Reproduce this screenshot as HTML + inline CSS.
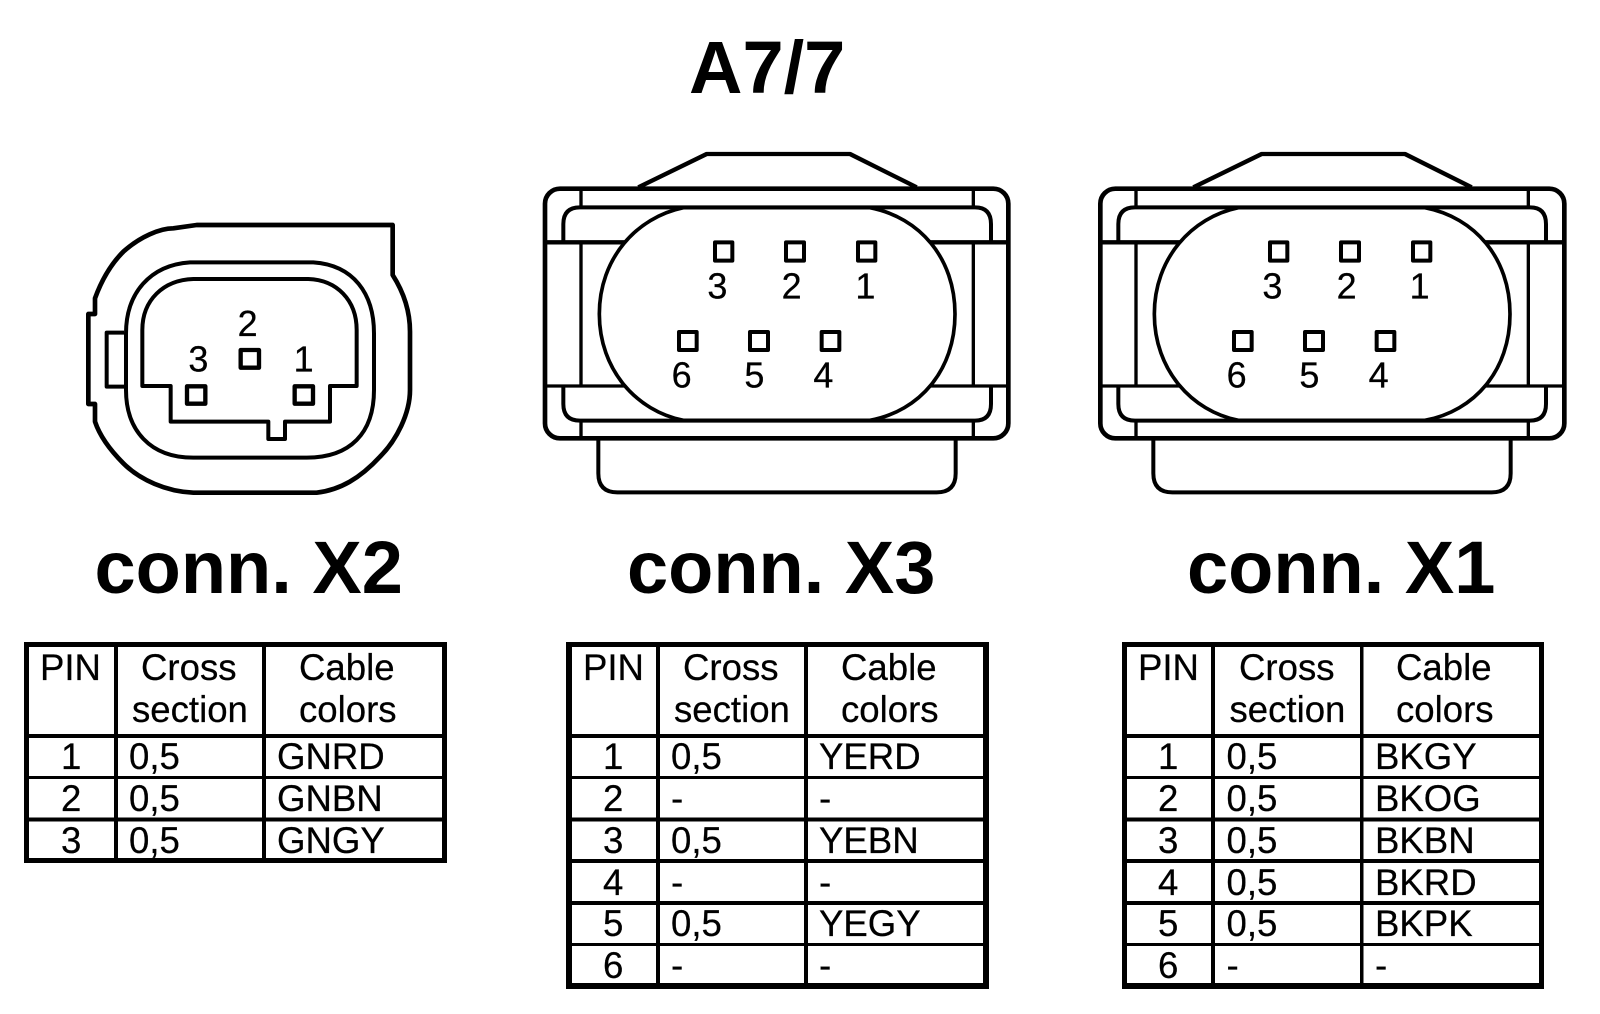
<!DOCTYPE html>
<html><head><meta charset="utf-8"><style>
html,body{margin:0;padding:0;background:#fff}
svg{display:block}
text{font-family:"Liberation Sans",Arial,sans-serif;fill:#000}
.b{font-weight:bold;font-size:74px}
.t text{font-size:36.6px;stroke:#000;stroke-width:.25px}
.n{font-size:108px;text-anchor:middle;stroke:#000;stroke-width:.8px}
.s{fill:none;stroke:#000;stroke-linejoin:round}
</style></head><body>
<svg width="1600" height="1014" viewBox="0 0 1600 1014" xmlns="http://www.w3.org/2000/svg">
<rect width="1600" height="1014" fill="#fff"/>
<text class="b" x="689" y="93">A7/7</text>
<text class="b" x="94.5" y="593">conn. X2</text>
<text class="b" x="627" y="593">conn. X3</text>
<text class="b" x="1187" y="593">conn. X1</text>

<!-- X2 -->
<g transform="translate(60,200) scale(.33333)">
<path class="s" stroke-width="14" d="M998 75V225C1030 275 1050 330 1050 395V570C1050 640 1010 720 960 770C900 835 840 870 770 878H400C320 875 240 840 190 790C150 750 120 710 105 665V612H85V342H105V295C125 240 150 195 190 155C240 110 300 85 340 85L410 75Z"/>
<path class="s" stroke-width="12" d="M390 187H760C880 195 942 280 942 400V570C942 700 870 773 740 773H400C270 773 198 690 198 570V400C198 280 270 195 390 187Z"/>
<path class="s" stroke-width="12" d="M400 237H745C830 240 890 300 890 390V558H810V665H675V717H625V665H332V558H247V390C247 300 310 240 400 237Z"/>
<path class="s" stroke-width="12" d="M192 398H140V560H192"/>
<rect class="s" stroke-width="13" x="542" y="450" width="55" height="53"/>
<rect class="s" stroke-width="13" x="381" y="559" width="55" height="52"/>
<rect class="s" stroke-width="13" x="704" y="559" width="55" height="52"/>
<text class="n" x="563" y="408">2</text>
<text class="n" x="415" y="515">3</text>
<text class="n" x="731" y="515">1</text>
</g>

<!-- X3 -->
<g transform="translate(530,130) scale(.33333)">
<path class="s" stroke-width="13" d="M325 172L530 72H960L1160 172"/>
<path class="s" stroke-width="12" d="M205 925V1030Q205 1087 262 1087H1220Q1277 1087 1277 1030V925"/>
<rect class="s" stroke-width="14" x="45" y="176" width="1390" height="749" rx="45"/>
<path class="s" stroke-width="13" d="M45 337H1435"/>
<path class="s" stroke-width="10" d="M45 768H1435M153 176V232M1330 176V232M153 337V768M1330 337V768M153 872V925M1330 872V925"/>
<path class="s" stroke-width="12" d="M100 337V282Q100 232 150 232H1335Q1383 232 1383 282V337M100 768V822Q100 872 150 872H1335Q1383 872 1383 822V768"/>
<path class="s" style="fill:#fff" stroke-width="11" d="M460 233C320 262 208 385 208 552C208 720 320 843 460 871H1020C1170 843 1275 720 1275 552C1275 385 1170 262 1020 233Z"/>
<g class="s" stroke-width="12">
<rect x="555" y="337" width="52" height="55"/><rect x="768" y="337" width="54" height="55"/><rect x="984" y="337" width="52" height="55"/>
<rect x="447" y="606" width="53" height="54"/><rect x="660" y="606" width="54" height="54"/><rect x="875" y="606" width="53" height="54"/>
</g>
<text class="n" x="562" y="505">3</text><text class="n" x="785" y="505">2</text><text class="n" x="1006" y="505">1</text>
<text class="n" x="455" y="772">6</text><text class="n" x="673" y="772">5</text><text class="n" x="880" y="772">4</text>
</g>

<!-- X1 -->
<g transform="translate(1085,130) scale(.33333)">
<path class="s" stroke-width="13" d="M325 172L530 72H960L1160 172"/>
<path class="s" stroke-width="12" d="M205 925V1030Q205 1087 262 1087H1220Q1277 1087 1277 1030V925"/>
<rect class="s" stroke-width="14" x="46" y="176" width="1392" height="749" rx="45"/>
<path class="s" stroke-width="13" d="M46 337H1438"/>
<path class="s" stroke-width="10" d="M46 768H1438M153 176V232M1330 176V232M153 337V768M1330 337V768M153 872V925M1330 872V925"/>
<path class="s" stroke-width="12" d="M100 337V282Q100 232 150 232H1335Q1383 232 1383 282V337M100 768V822Q100 872 150 872H1335Q1383 872 1383 822V768"/>
<path class="s" style="fill:#fff" stroke-width="11" d="M460 233C320 262 208 385 208 552C208 720 320 843 460 871H1020C1170 843 1275 720 1275 552C1275 385 1170 262 1020 233Z"/>
<g class="s" stroke-width="12">
<rect x="555" y="337" width="52" height="55"/><rect x="768" y="337" width="54" height="55"/><rect x="984" y="337" width="52" height="55"/>
<rect x="447" y="606" width="53" height="54"/><rect x="660" y="606" width="54" height="54"/><rect x="875" y="606" width="53" height="54"/>
</g>
<text class="n" x="562" y="505">3</text><text class="n" x="785" y="505">2</text><text class="n" x="1004" y="505">1</text>
<text class="n" x="455" y="772">6</text><text class="n" x="673" y="772">5</text><text class="n" x="881" y="772">4</text>
</g>

<!-- Table 1 -->
<g fill="#000">
<rect x="24" y="642" width="5" height="221"/><rect x="442" y="642" width="5" height="221"/>
<rect x="24" y="642" width="423" height="5"/><rect x="24" y="858" width="423" height="5"/>
<rect x="114" y="642" width="4" height="221"/><rect x="262" y="642" width="4" height="221"/>
<rect x="24" y="734" width="423" height="4"/><rect x="24" y="776" width="423" height="3"/><rect x="24" y="817.5" width="423" height="4"/>
</g>
<g class="t">
<text x="40" y="680">PIN</text><text x="141" y="680">Cross</text><text x="299" y="680">Cable</text>
<text x="132" y="722">section</text><text x="299" y="722">colors</text>
<text x="61" y="769">1</text><text x="129" y="769">0,5</text><text x="277" y="769">GNRD</text>
<text x="61" y="811">2</text><text x="129" y="811">0,5</text><text x="277" y="811">GNBN</text>
<text x="61" y="853">3</text><text x="129" y="853">0,5</text><text x="277" y="853">GNGY</text>
</g>

<!-- Table 2 -->
<g fill="#000">
<rect x="566" y="642" width="6" height="347"/><rect x="983" y="642" width="6" height="347"/>
<rect x="566" y="642" width="423" height="5"/><rect x="566" y="983" width="423" height="6"/>
<rect x="656" y="642" width="4" height="347"/><rect x="804" y="642" width="4" height="347"/>
<rect x="566" y="734" width="423" height="4"/><rect x="566" y="776" width="423" height="3"/><rect x="566" y="817.5" width="423" height="4"/><rect x="566" y="859" width="423" height="4"/><rect x="566" y="901" width="423" height="4"/><rect x="566" y="943" width="423" height="3"/>
</g>
<g class="t">
<text x="583" y="680">PIN</text><text x="683" y="680">Cross</text><text x="841" y="680">Cable</text>
<text x="674" y="722">section</text><text x="841" y="722">colors</text>
<text x="603" y="769">1</text><text x="671" y="769">0,5</text><text x="819" y="769">YERD</text>
<text x="603" y="811">2</text><text x="671" y="811">-</text><text x="819" y="811">-</text>
<text x="603" y="853">3</text><text x="671" y="853">0,5</text><text x="819" y="853">YEBN</text>
<text x="603" y="895">4</text><text x="671" y="895">-</text><text x="819" y="895">-</text>
<text x="603" y="936">5</text><text x="671" y="936">0,5</text><text x="819" y="936">YEGY</text>
<text x="603" y="978">6</text><text x="671" y="978">-</text><text x="819" y="978">-</text>
</g>

<!-- Table 3 -->
<g fill="#000">
<rect x="1122" y="642" width="5" height="347"/><rect x="1539" y="642" width="5" height="347"/>
<rect x="1122" y="642" width="422" height="5"/><rect x="1122" y="983" width="422" height="6"/>
<rect x="1211" y="642" width="4" height="347"/><rect x="1360" y="642" width="3.5" height="347"/>
<rect x="1122" y="734" width="422" height="4"/><rect x="1122" y="776" width="422" height="3"/><rect x="1122" y="817.5" width="422" height="4"/><rect x="1122" y="859" width="422" height="4"/><rect x="1122" y="901" width="422" height="4"/><rect x="1122" y="943" width="422" height="3"/>
</g>
<g class="t">
<text x="1138" y="680">PIN</text><text x="1239" y="680">Cross</text><text x="1396" y="680">Cable</text>
<text x="1229.5" y="722">section</text><text x="1396" y="722">colors</text>
<text x="1158" y="769">1</text><text x="1226.5" y="769">0,5</text><text x="1375" y="769">BKGY</text>
<text x="1158" y="811">2</text><text x="1226.5" y="811">0,5</text><text x="1375" y="811">BKOG</text>
<text x="1158" y="853">3</text><text x="1226.5" y="853">0,5</text><text x="1375" y="853">BKBN</text>
<text x="1158" y="895">4</text><text x="1226.5" y="895">0,5</text><text x="1375" y="895">BKRD</text>
<text x="1158" y="936">5</text><text x="1226.5" y="936">0,5</text><text x="1375" y="936">BKPK</text>
<text x="1158" y="978">6</text><text x="1226.5" y="978">-</text><text x="1375" y="978">-</text>
</g>
</svg>
</body></html>
